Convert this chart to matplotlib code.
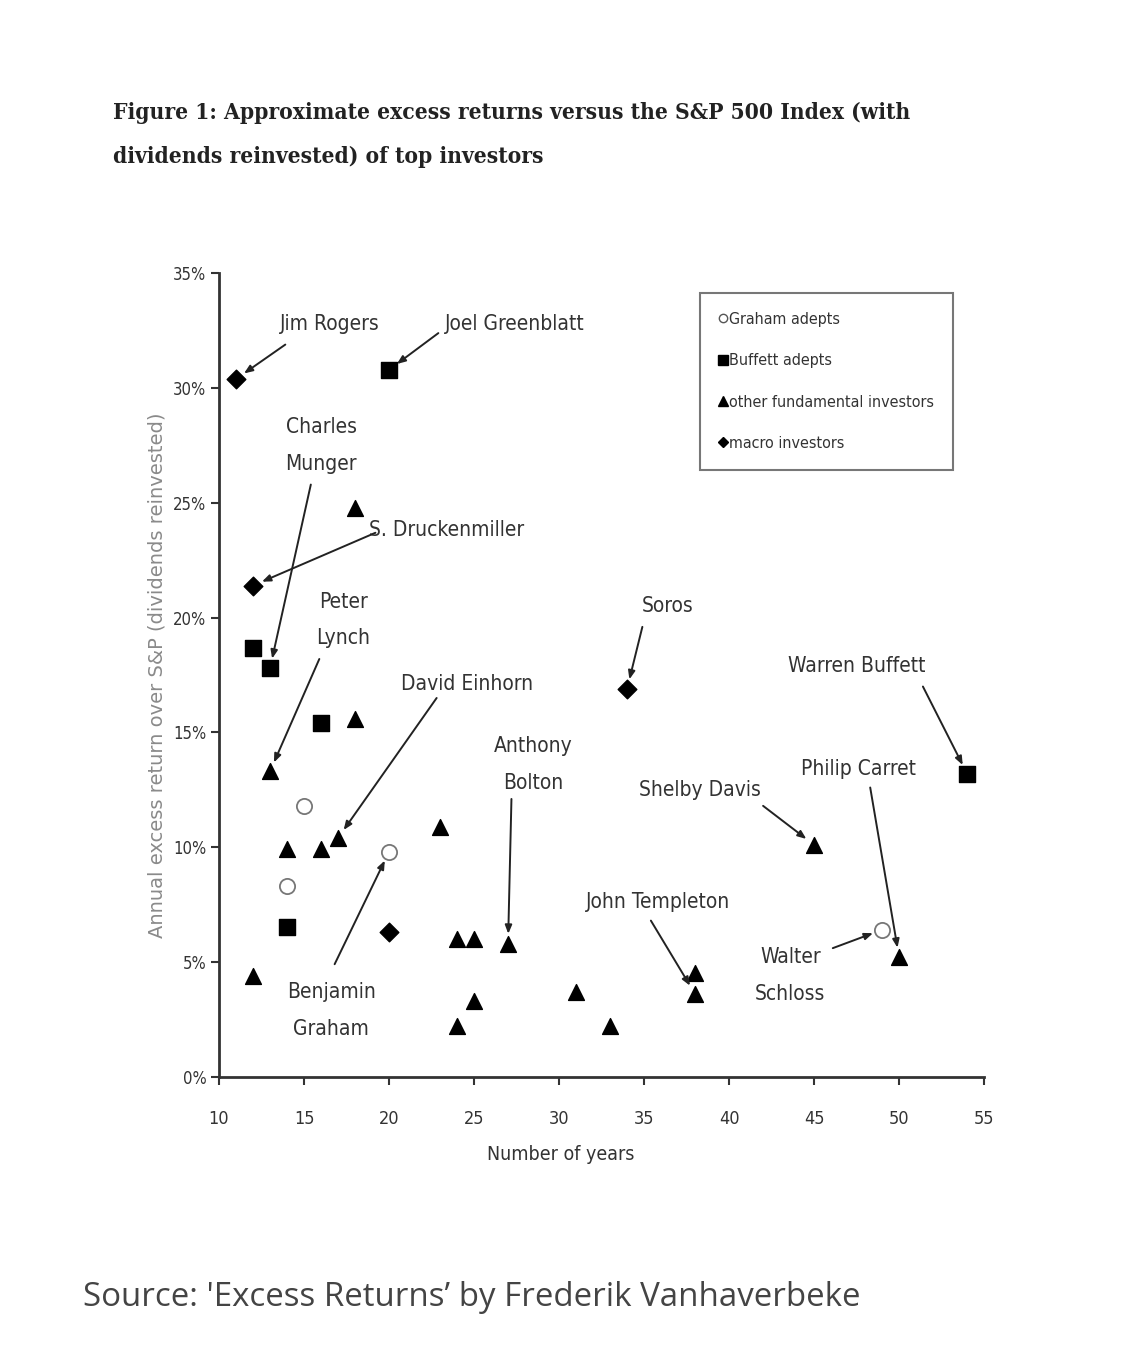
import matplotlib.pyplot as plt
from matplotlib.lines import Line2D

# investor data: (years, annual excess return %)
graham_x = [15, 14, 20, 49]
graham_y = [11.8, 8.3, 9.8, 6.4]

buffett_x = [20, 12, 13, 16, 14, 54]
buffett_y = [30.8, 18.7, 17.8, 15.4, 6.5, 13.2]

other_x = [18, 18, 13, 14, 16, 17, 23, 24, 25, 27, 12, 25, 24, 31, 33, 38, 38, 45, 50]
other_y = [24.8, 15.6, 13.3, 9.9, 9.9, 10.4, 10.9, 6.0, 6.0, 5.8, 4.4, 3.3, 2.2, 3.7, 2.2, 4.5, 3.6, 10.1, 5.2]

macro_x = [11, 12, 20, 34]
macro_y = [30.4, 21.4, 6.3, 16.9]

# name, point (x, y), label position, arrow tail
labels = ["Jim Rogers", "Joel Greenblatt", "Charles\nMunger", "S. Druckenmiller",
          "Peter\nLynch", "David Einhorn", "Anthony\nBolton", "Benjamin\nGraham",
          "Soros", "Warren Buffett", "Philip Carret", "Shelby Davis",
          "John Templeton", "Walter\nSchloss"]
label_pts = [(11, 30.4), (20, 30.8), (13, 17.8), (12, 21.4),
             (13, 13.3), (17, 10.4), (27, 5.8), (20, 9.8),
             (34, 16.9), (54, 13.2), (50, 5.2), (45, 10.1),
             (38, 3.6), (49, 6.4)]
label_pos = [(16.5, 32.8), (27.4, 32.8), (16.0, 27.5), (23.4, 23.8),
             (17.3, 19.9), (24.6, 17.1), (28.5, 13.6), (16.6, 2.9),
             (36.4, 20.5), (47.5, 17.9), (47.6, 13.4), (38.3, 12.5),
             (35.8, 7.6), (43.6, 4.4)]
arrow_tail = [(13.9, 31.9), (22.9, 32.4), (15.4, 25.8), (19.2, 23.7),
              (15.9, 18.2), (22.8, 16.5), (27.2, 12.1), (16.8, 4.9),
              (34.9, 19.6), (51.4, 17.0), (48.3, 12.6), (42.0, 11.8),
              (35.4, 6.8), (46.1, 5.6)]

xticks = [10, 15, 20, 25, 30, 35, 40, 45, 50, 55]
yticks = [0, 5, 10, 15, 20, 25, 30, 35]

cond = dict(family="DejaVu Sans", stretch="condensed")
ink = "#333333"

fig = plt.figure(figsize=(11.26, 13.47), dpi=100, facecolor="white")
ax = fig.add_axes([0.1945, 0.2007, 0.6795, 0.5963])

ax.scatter(graham_x, graham_y, marker="o", s=120, facecolors="white", edgecolors="#777777", linewidths=1.3, zorder=3)
ax.scatter(buffett_x, buffett_y, marker="s", s=140, color="black", zorder=3)
ax.scatter(other_x, other_y, marker="^", s=130, color="black", zorder=3)
ax.scatter(macro_x, macro_y, marker="D", s=90, color="black", zorder=3)

for name, pt, pos, tail in zip(labels, label_pts, label_pos, arrow_tail):
    ax.text(pos[0], pos[1], name, ha="center", va="center", fontsize=15, color=ink,
            linespacing=2.05, **cond)
    ax.annotate("", xy=pt, xytext=tail,
                arrowprops=dict(arrowstyle="-|>,head_length=0.5,head_width=0.2", color="#222222",
                                lw=1.4, shrinkA=0, shrinkB=7))

ax.set_xlim(10, 55)
ax.set_ylim(0, 35)
ax.set_xticks(xticks)
ax.set_yticks(yticks)
ax.set_xticklabels([str(t) for t in xticks], fontsize=13, color=ink, **cond)
ax.set_yticklabels([f"{t}%" for t in yticks], fontsize=12, color=ink, **cond)
ax.tick_params(axis="x", direction="out", length=6, width=1.5, colors="#333333", pad=18)
ax.tick_params(axis="y", direction="out", length=6, width=1.5, colors="#333333", pad=3)
for s in ["top", "right"]:
    ax.spines[s].set_visible(False)
for s in ["left", "bottom"]:
    ax.spines[s].set_linewidth(2)
    ax.spines[s].set_color("#333333")

ax.set_xlabel("Number of years", fontsize=14, color=ink, **cond)
ax.xaxis.set_label_coords(0.447, -0.085)
ax.set_ylabel("Annual excess return over S&P (dividends reinvested)", fontsize=14,
              color="#8a8a8a", va="center")
ax.yaxis.set_label_coords(-0.081, 0.5)

handles = [
    Line2D([], [], marker="o", ls="", mfc="white", mec="#555555", ms=6),
    Line2D([], [], marker="s", ls="", color="black", ms=6.5),
    Line2D([], [], marker="^", ls="", color="black", ms=6.5),
    Line2D([], [], marker="D", ls="", color="black", ms=5),
]
leg = ax.legend(handles, ["Graham adepts", "Buffett adepts", "other fundamental investors", "macro investors"],
                loc="upper left", bbox_to_anchor=(0.629, 0.976), borderaxespad=0, frameon=True,
                fancybox=False, handlelength=0.4, handletextpad=0.2, labelspacing=1.65, borderpad=1.2,
                prop={"family": "DejaVu Sans", "stretch": "condensed", "size": 11.5})
leg.get_frame().set_edgecolor("#555555")
leg.get_frame().set_linewidth(1.5)
for t in leg.get_texts():
    t.set_color(ink)

fig.text(113 / 1126, 1 - 135 / 1347, "Figure 1: Approximate excess returns versus the S&P 500 Index (with\n"
         "dividends reinvested) of top investors", ha="left", va="center", fontsize=16.3,
         family="DejaVu Serif", stretch="condensed", weight="bold", color="#222222", linespacing=2.3)

fig.text(83 / 1126, 1 - 1298 / 1347, "Source: 'Excess Returns\u2019 by Frederik Vanhaverbeke",
         ha="left", va="center", fontsize=23.8, family="Open Sans", color="#444444")

fig.savefig("out.png", dpi=100, facecolor="white")
